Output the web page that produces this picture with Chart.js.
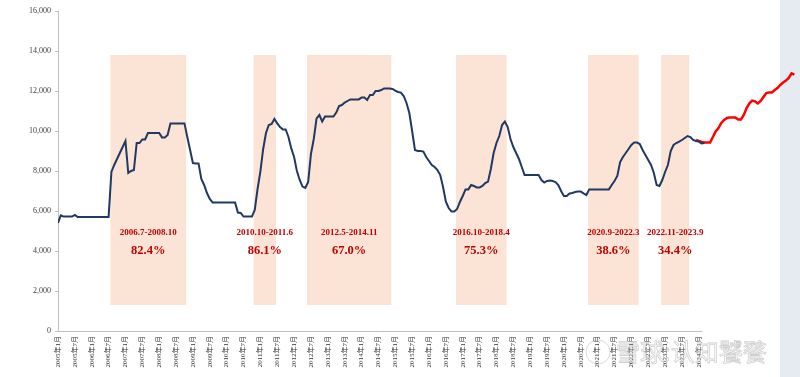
<!DOCTYPE html>
<html>
<head>
<meta charset="utf-8">
<script src="https://cdn.jsdelivr.net/npm/chart.js@4.4.1/dist/chart.umd.min.js"></script>
<style>
  body { margin: 0; background: #fff; }
</style>
</head>
<body>
<canvas id="chart" width="800" height="377"></canvas>
<script>
// months counted from 2005年1月
const startYear = 2005;

// index, monthly from 2005-01
const indexValues = [
  5400, 5780, 5720, 5720, 5720, 5720, 5800, 5700, 5700, 5700, 5700, 5700,
  5700, 5700, 5700, 5700, 5700, 5700, 5700, 7950, 8300, 8600, 8900, 9200,
  9500, 7900, 8000, 8050, 9400, 9400, 9580, 9580, 9900, 9900, 9900, 9900,
  9900, 9680, 9680, 9800, 10380, 10380, 10380, 10380, 10380, 10380, 9700, 9050,
  8400, 8380, 8380, 7600, 7300, 6900, 6600, 6430, 6430, 6430, 6430, 6430,
  6430, 6430, 6430, 6430, 5920, 5900, 5720, 5720, 5720, 5720, 6050, 7100,
  7970, 9100, 9900, 10300, 10350, 10600, 10380, 10200, 10080, 10080, 9700, 9130,
  8700, 8000, 7550, 7220, 7150, 7450, 8850, 9600, 10630, 10800, 10470, 10720,
  10720, 10720, 10720, 10920, 11250, 11300, 11420, 11500, 11580, 11580, 11580, 11580,
  11670, 11670, 11550, 11800, 11800, 12000, 12000, 12050, 12130, 12130, 12130, 12100,
  12020, 11950, 11920, 11750, 11400, 10900, 10000, 9050, 9000, 9000, 8970, 8700,
  8500, 8300, 8200, 8050, 7800, 7200, 6470, 6150, 5970, 5970, 6100, 6450,
  6750, 7080, 7080, 7300, 7250, 7180, 7180, 7250, 7400, 7470, 8100, 8900,
  9400, 9750, 10300, 10470, 10200, 9600, 9200, 8900, 8600, 8200, 7800, 7800,
  7800, 7800, 7800, 7800, 7550, 7420, 7500, 7520, 7500, 7450, 7300, 7000,
  6750, 6750, 6880, 6900, 6950, 6970, 6970, 6880, 6800, 7080, 7080, 7080,
  7080, 7080, 7080, 7080, 7080, 7300, 7500, 7750, 8450, 8700, 8900, 9100,
  9300, 9420, 9420, 9350, 9050, 8800, 8550, 8300, 7900, 7300, 7250, 7550,
  7950, 8300, 9000, 9300, 9400, 9470, 9550, 9650, 9750, 9700, 9550, 9500,
  9470, 9380, 9400
];

// red continuation, monthly from 2023-12
const redStart = 227;
const redValues = [
  9550, 9500, 9450, 9430, 9420, 9420, 9700, 9980, 10150, 10400, 10550, 10650,
  10680, 10680, 10680, 10580, 10580, 10800, 11150, 11380, 11520, 11480, 11380, 11500,
  11700, 11900, 11930, 11930, 12050, 12150, 12300, 12420, 12520, 12650, 12880, 12820
];

// shaded periods
const boxFrom = ['2006-07', '2010-10', '2012-05', '2016-10', '2020-09', '2022-11'];
const boxTo = ['2008-10', '2011-06', '2014-11', '2018-04', '2022-03', '2023-09'];
const boxLabels = ['2006.7-2008.10', '2010.10-2011.6', '2012.5-2014.11', '2016.10-2018.4', '2020.9-2022.3', '2022.11-2023.9'];
const boxPercents = ['82.4%', '86.1%', '67.0%', '75.3%', '38.6%', '34.4%'];
const boxLow = 1300;
const boxHigh = 13800;

const lastTickMonth = 228; // 2024年1月

function monthOf(s) {
  const [y, m] = s.split('-').map(Number);
  return (y - startYear) * 12 + (m - 1);
}

const serif = "'Times New Roman', 'Liberation Serif', 'Noto Sans CJK SC', serif";

const backdrop = {
  id: 'backdrop',
  beforeDraw(chart) {
    const ctx = chart.ctx;
    ctx.save();
    ctx.fillStyle = '#ffffff';
    ctx.fillRect(0, 0, chart.width, chart.height);
    ctx.fillStyle = '#e6ebf2';
    ctx.fillRect(780, 0, chart.width - 780, chart.height);
    ctx.restore();
  },
  beforeDatasetsDraw(chart) {
    const ctx = chart.ctx;
    const x = chart.scales.x, y = chart.scales.y;
    ctx.save();
    const yTop = y.getPixelForValue(boxHigh);
    const yBot = y.getPixelForValue(boxLow);
    boxFrom.forEach((f, i) => {
      const x0 = x.getPixelForValue(monthOf(f) + 0.6);
      const x1 = x.getPixelForValue(monthOf(boxTo[i]) + 0.6);
      ctx.fillStyle = '#fbe4d5';
      ctx.fillRect(x0, yTop, x1 - x0, yBot - yTop);
      const cx = (x0 + x1) / 2;
      ctx.fillStyle = '#c00000';
      ctx.textAlign = 'center';
      ctx.textBaseline = 'middle';
      ctx.font = 'bold 9px ' + serif;
      ctx.fillText(boxLabels[i], cx, y.getPixelForValue(4900));
      ctx.font = 'bold 12.5px ' + serif;
      ctx.fillText(boxPercents[i], cx, y.getPixelForValue(4000));
    });
    // x axis line, only as far as the labelled ticks
    ctx.strokeStyle = '#bfbfbf';
    ctx.lineWidth = 1;
    ctx.beginPath();
    ctx.moveTo(chart.chartArea.left, y.getPixelForValue(0) + 0.5);
    ctx.lineTo(x.getPixelForValue(lastTickMonth + 1.3), y.getPixelForValue(0) + 0.5);
    ctx.stroke();
    ctx.restore();
  },
  afterDraw(chart) {
    const ctx = chart.ctx;
    ctx.save();
    ctx.font = "24px 'Noto Sans CJK SC', sans-serif";
    ctx.textBaseline = 'middle';
    ctx.lineWidth = 0.8;
    ctx.strokeStyle = 'rgba(150,150,150,0.45)';
    ctx.fillStyle = 'rgba(255,255,255,0.5)';
    ctx.beginPath();
    ctx.arc(598, 352, 12, 0, Math.PI * 2);
    ctx.stroke();
    ctx.fillText('雪球:认知饕餮', 616, 352);
    ctx.strokeText('雪球:认知饕餮', 616, 352);
    ctx.restore();
  }
};

const navyPoints = indexValues.map((v, i) => ({ x: i, y: v }));
const redPoints = redValues.map((v, i) => ({ x: redStart + i, y: v }));

new Chart(document.getElementById('chart'), {
  type: 'line',
  data: {
    datasets: [
      {
        data: navyPoints,
        borderColor: '#1f3864',
        borderWidth: 2,
        pointRadius: 0,
        tension: 0
      },
      {
        data: redPoints,
        borderColor: '#ff0000',
        borderWidth: 2.5,
        pointRadius: 0,
        tension: 0
      }
    ]
  },
  options: {
    responsive: false,
    animation: false,
    layout: { padding: { top: 11, right: 0, left: 0, bottom: 0 } },
    plugins: {
      legend: { display: false },
      tooltip: { enabled: false }
    },
    scales: {
      x: {
        type: 'linear',
        min: 0,
        max: 264,
        border: { display: false },
        grid: { display: false, drawTicks: false },
        afterBuildTicks: (scale) => {
          scale.ticks = scale.ticks.filter(t => t.value <= lastTickMonth);
        },
        afterFit: (scale) => { scale.height = 46; },
        ticks: {
          stepSize: 6,
          autoSkip: false,
          minRotation: 90,
          maxRotation: 90,
          padding: 5,
          color: '#333333',
          font: { family: serif, size: 7 },
          callback: (v) => (startYear + Math.floor(v / 12)) + '年' + (v % 12 + 1) + '月'
        }
      },
      y: {
        min: 0,
        max: 16000,
        border: { display: true, color: '#bfbfbf' },
        grid: { drawOnChartArea: false, tickLength: 3, color: '#bfbfbf' },
        afterFit: (scale) => { scale.width = 58; },
        ticks: {
          stepSize: 2000,
          padding: 4,
          color: '#404040',
          font: { family: serif, size: 8 },
          callback: (v) => v.toLocaleString('en-US')
        }
      }
    }
  },
  plugins: [backdrop]
});
</script>
</body>
</html>
